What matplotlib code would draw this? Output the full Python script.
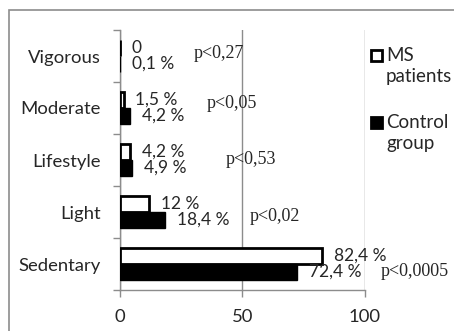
"""
Physical activity levels of MS patients vs. a control group, drawn as
paired horizontal bars with percentage labels and p-values per level.
"""

import matplotlib.pyplot as plt
import numpy as np
from matplotlib.patches import Rectangle

plt.rcParams.update({"font.family": ["Lato", "DejaVu Sans"]})

categories = ["Sedentary", "Light", "Lifestyle", "Moderate", "Vigorous"]
ms_patients = [82.4, 12.0, 4.2, 1.5, 0.0]
control_group = [72.4, 18.4, 4.9, 4.2, 0.1]
ms_labels = ["82,4 %", "12 %", "4,2 %", "1,5 %", "0"]
control_labels = ["72,4 %", "18,4 %", "4,9 %", "4,2 %", "0,1 %"]
p_values = ["p<0,0005", "p<0,02", "p<0,53", "p<0,05", "p<0,27"]
p_x = [106.5, 53, 43, 35.5, 30.2]
p_dy = [-0.15, -0.08, 0.0, 0.08, 0.05]
x_ticks = [0, 50, 100]

GRAY = "#8c8c8c"
TEXT = "#262626"
BAR_H = 0.31

fig = plt.figure(figsize=(4.54, 3.31), dpi=100)
# outer chart frame, clipped by the figure edge on the right and bottom
fig.patches.append(
    Rectangle((9 / 454, -0.1), 1.1, 1 - 10 / 331 + 0.1,
              transform=fig.transFigure, fill=False,
              edgecolor=GRAY, linewidth=1.2)
)

ax = fig.add_axes([120 / 454, 1 - 290 / 331, 245 / 454, 260 / 331])
y = np.arange(len(categories))

ax.barh(y + BAR_H / 2, ms_patients, height=BAR_H, color="white",
        edgecolor="black", linewidth=2.0, zorder=3)
ax.barh(y - BAR_H / 2, control_group, height=BAR_H, color="black",
        edgecolor="black", linewidth=1.0, zorder=3)

for yi, v, lab in zip(y, ms_patients, ms_labels):
    ax.annotate(lab, (v, yi + BAR_H / 2), xytext=(8.5, 0),
                textcoords="offset points", va="center", ha="left",
                fontsize=12.5, color=TEXT, zorder=4)
for yi, v, lab in zip(y, control_group, control_labels):
    ax.annotate(lab, (v, yi - BAR_H / 2), xytext=(8.5, 0),
                textcoords="offset points", va="center", ha="left",
                fontsize=12.5, color=TEXT, zorder=4)
for yi, px, dy, p in zip(y, p_x, p_dy, p_values):
    ax.text(px, yi + dy, p, va="center", ha="left", fontsize=13,
            family="Liberation Serif", color=TEXT, zorder=4,
            clip_on=False)

ax.set_xlim(0, 100)
ax.set_ylim(-0.5, len(categories) - 0.5)
ax.set_xticks(x_ticks)
ax.set_xticklabels([str(t) for t in x_ticks])
ax.set_yticks(np.arange(len(categories) + 1) - 0.5)
ax.set_yticklabels([])
ax.set_yticks(y, minor=True)
ax.set_yticklabels(categories, minor=True)

ax.tick_params(axis="y", which="major", length=5, color=GRAY, width=1)
ax.tick_params(axis="y", which="minor", length=0, pad=14,
               labelsize=13.3, labelcolor=TEXT)
ax.tick_params(axis="x", length=5, color=GRAY, width=1, pad=9,
               labelsize=13.3, labelcolor=TEXT)

for side in ("top", "right"):
    ax.spines[side].set_visible(False)
for side in ("left", "bottom"):
    ax.spines[side].set_color(GRAY)
    ax.spines[side].set_linewidth(1)
ax.xaxis.grid(True, color=GRAY, linewidth=1)
ax.set_axisbelow(True)
ax.set_facecolor("none")

# legend entries: square marker next to a two-line label
legend_items = [("MS\npatients", "white", 49), ("Control\ngroup", "black", 116)]
for label, face, top in legend_items:
    fig.patches.append(
        Rectangle((371 / 454, 1 - (top + 12) / 331), 11 / 454, 11 / 331,
                  transform=fig.transFigure, facecolor=face,
                  edgecolor="black", linewidth=2.0)
    )
    fig.text(386 / 454, 1 - (top - 2) / 331, label, ha="left", va="top",
             fontsize=13.5, color=TEXT, linespacing=1.3)

fig.savefig("out.png", dpi=100)
